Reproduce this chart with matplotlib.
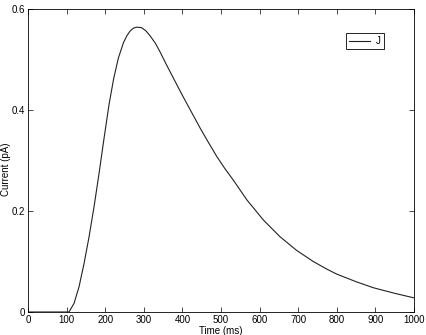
import matplotlib.pyplot as plt

# Corriente J frente al tiempo
tiempo = [0, 50, 100, 106, 119, 132, 145, 158, 171, 184, 197, 210, 222,
          234, 247, 256, 264, 273, 281, 294, 305, 316, 330, 342, 359, 378,
          402, 424, 446, 468, 489, 510, 532, 567, 610, 653, 696, 739, 774,
          800, 850, 895, 950, 1000]
corriente = [0, 0, 0, 0, 0.017, 0.050, 0.096, 0.149, 0.209, 0.275, 0.345,
             0.412, 0.463, 0.503, 0.533, 0.547, 0.556, 0.562, 0.564, 0.563,
             0.557, 0.547, 0.532, 0.515, 0.489, 0.461, 0.426, 0.395, 0.364,
             0.335, 0.308, 0.284, 0.261, 0.222, 0.182, 0.149, 0.122, 0.100,
             0.085, 0.075, 0.060, 0.048, 0.037, 0.028]

xticks = list(range(0, 1001, 100))
yticks = [0, 0.2, 0.4, 0.6]
ytick_labels = ['0', '0.2', '0.4', '0.6']

plt.rcParams['font.family'] = ['Liberation Sans', 'DejaVu Sans']

fig = plt.figure(figsize=(4.26, 3.35), dpi=100)
ax = fig.add_axes([0.066, 0.0687, 0.9056, 0.9045])

ax.plot(tiempo, corriente, color='#222222', linewidth=0.8, label='J')

ax.set_xlim(0, 1000)
ax.set_ylim(0, 0.6)
ax.set_xticks(xticks)
ax.set_yticks(yticks)
ax.set_yticklabels(ytick_labels)
ax.tick_params(direction='in', top=True, right=True, length=3.5, width=0.5,
               labelsize=7, pad=2)
for s in ax.spines.values():
    s.set_linewidth(0.6)

ax.set_xlabel('Time (ms)', fontsize=7, labelpad=1)
ax.set_ylabel('Current (pA)', fontsize=7)
ax.yaxis.set_label_coords(-0.044, 0.47)

leg = ax.legend(loc='upper right', bbox_to_anchor=(0.9225, 0.92), fontsize=7,
                fancybox=False, edgecolor='black', framealpha=1,
                handlelength=2.2, borderpad=0.3, handletextpad=0.6,
                borderaxespad=0)
leg.get_frame().set_linewidth(0.6)

fig.savefig('out.png', dpi=100)
